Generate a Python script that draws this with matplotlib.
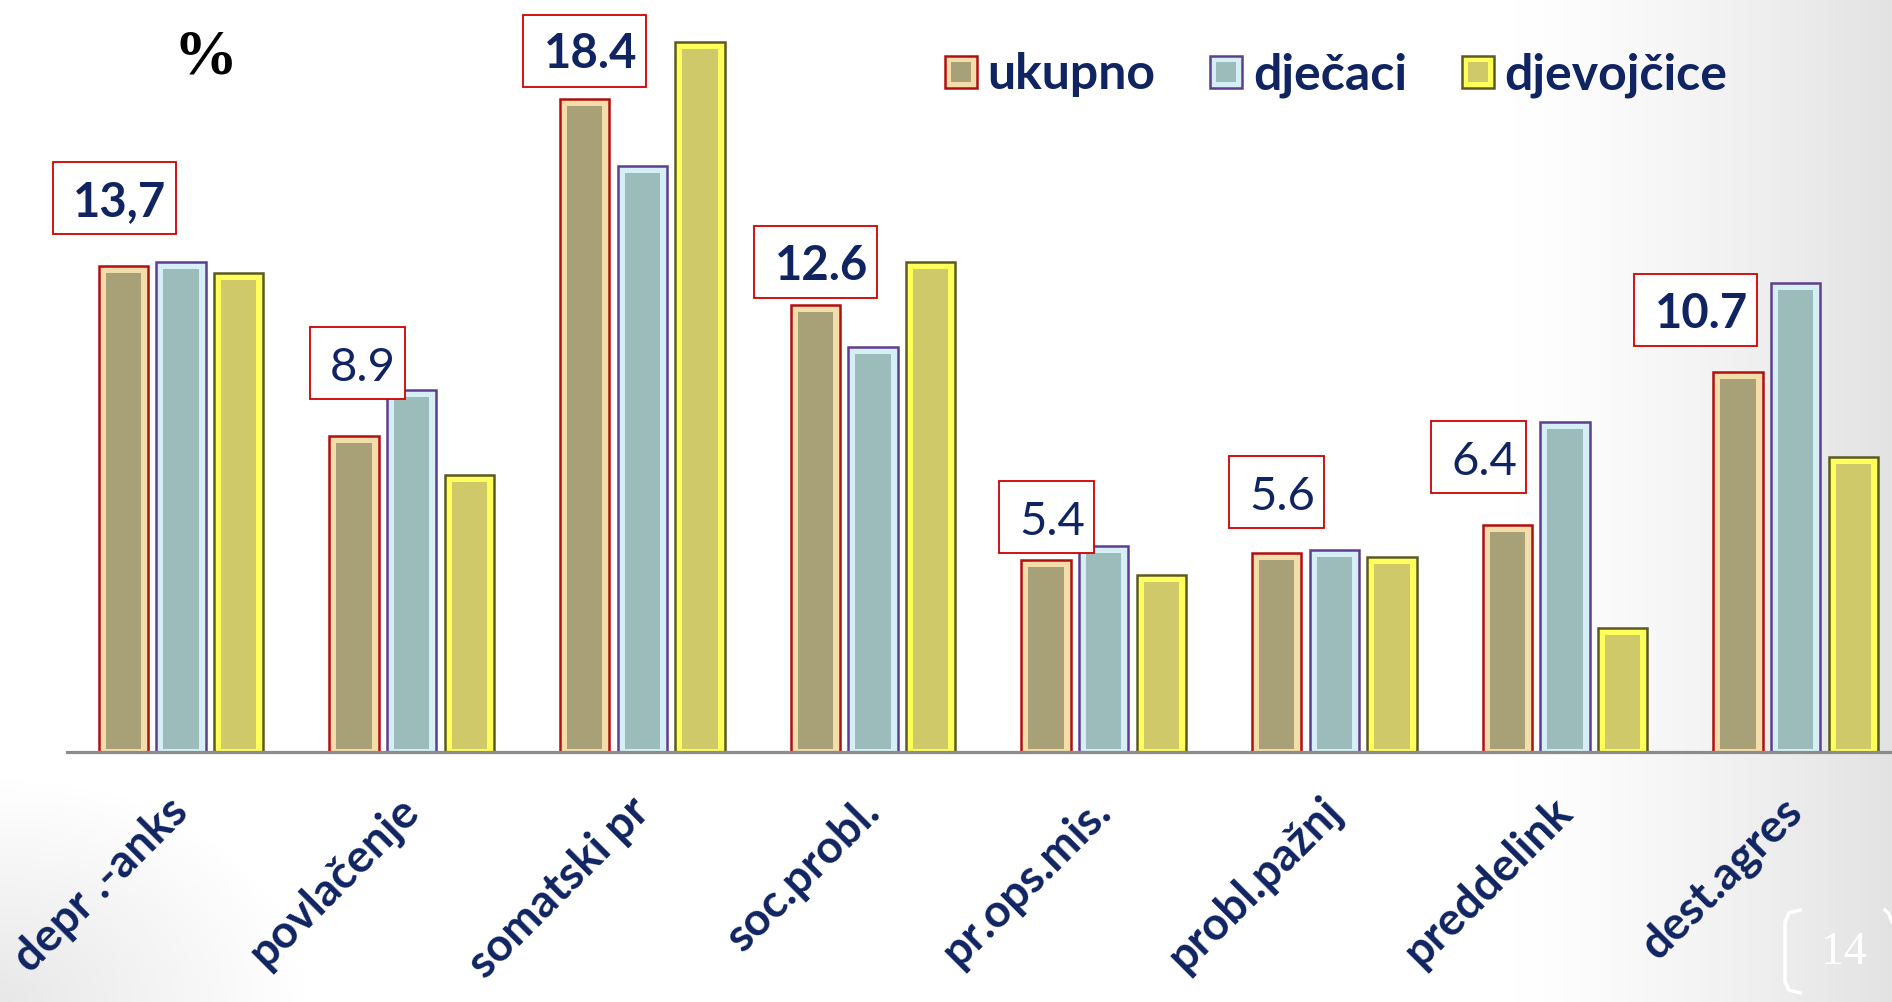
import numpy as np
import matplotlib
matplotlib.use("Agg")
import matplotlib.pyplot as plt
from matplotlib.patches import Rectangle
from matplotlib.lines import Line2D
from matplotlib.legend_handler import HandlerTuple

# ---------------- data ----------------
categories = ["depr .-anks", "povlačenje", "somatski pr", "soc.probl.",
              "pr.ops.mis.", "probl.pažnj", "preddelink", "dest.agres"]
series_names = ["ukupno", "dječaci", "djevojčice"]
ukupno = [13.7, 8.9, 18.4, 12.6, 5.4, 5.6, 6.4, 10.7]
djecaci = [13.8, 10.2, 16.5, 11.4, 5.8, 5.7, 9.3, 13.2]
djevojcice = [13.5, 7.8, 20.0, 13.8, 5.0, 5.5, 3.5, 8.3]
value_labels = ["13,7", "8.9", "18.4", "12.6", "5.4", "5.6", "6.4", "10.7"]
value_label_bold = [True, False, True, True, False, False, False, True]

# ---------------- style / layout ----------------
NAVY = "#0F2461"
edge_cols = ["#B01010", "#5E3F8C", "#5C5A22"]
frame_cols = ["#F3DDA8", "#D6EEF6", "#FFFF5C"]
fill_cols = ["#A8A077", "#9BBCBB", "#D0C96A"]
label_dx = [-0.29, -0.235, -0.25, -0.25, -0.25, -0.25, -0.375, -0.435]
label_y = [15.6, 10.96, 19.76, 13.8, 6.62, 7.32, 8.31, 12.45]

W, H = 1892, 1002
fig = plt.figure(figsize=(W / 100, H / 100), dpi=100)

# background (slide gradient)
bg = fig.add_axes([0, 0, 1, 1], zorder=-10)
xx, yy = np.meshgrid(np.linspace(0, 1, 400), np.linspace(0, 1, 220))
g = 0.11 * np.clip((xx - 0.80) / 0.20, 0, 1) ** 1.3
r = np.sqrt((xx / 0.16) ** 2 + (yy / 0.22) ** 2)
g = np.maximum(g, 0.09 * np.clip(1 - r, 0, 1))
img = 1 - g
bg.imshow(np.dstack([img, img, img]), extent=[0, 1, 0, 1], origin="lower",
          aspect="auto")
bg.axis("off")

px_per_unit = 35.5
ax = fig.add_axes([67 / W, 250 / H, 1 - 67 / W, 21 * px_per_unit / H])
ax.patch.set_alpha(0)

x = np.arange(len(categories))
width = 0.214
offsets = [-0.25, 0.0, 0.25]
inset_x = 7 / 230.7
inset_top = 7 / px_per_unit
inset_bot = 3 / px_per_unit

for k, vals in enumerate([ukupno, djecaci, djevojcice]):
    xs = x + offsets[k]
    ax.bar(xs, vals, width=width, color=frame_cols[k], edgecolor=edge_cols[k],
           linewidth=1.8, zorder=2)
    inner_h = np.array(vals) - inset_top - inset_bot
    ax.bar(xs, inner_h, bottom=inset_bot, width=width - 2 * inset_x,
           color=fill_cols[k], linewidth=0, zorder=3)

ax.set_xlim(-0.494, 7.417)
ax.set_ylim(0, 21)
for s in ["top", "right", "left"]:
    ax.spines[s].set_visible(False)
ax.spines["bottom"].set_color("#8C8C8C")
ax.spines["bottom"].set_linewidth(2.3)
ax.spines["bottom"].set_zorder(4)
ax.set_yticks([])
ax.set_xticks(x)
ax.set_xticklabels(categories, rotation=45, ha="right", va="center",
                   rotation_mode="anchor", fontsize=33, fontweight="bold",
                   color=NAVY, family="Lato")
ax.tick_params(axis="x", length=0, pad=38)

# value boxes
bw_bold, bw_norm, bh = 123 / 230.7, 95 / 230.7, 72 / px_per_unit
for i, (lab, b) in enumerate(zip(value_labels, value_label_bold)):
    cx = x[i] + label_dx[i]
    cy = label_y[i]
    bw = bw_bold if b else bw_norm
    ax.add_patch(Rectangle((cx - bw / 2, cy - bh / 2), bw, bh, facecolor="white",
                           edgecolor="#D00000", linewidth=1.3, zorder=6,
                           clip_on=False))
    ax.text(cx + 0.025, cy - 0.5, lab, ha="center", va="baseline",
            fontsize=34, fontweight="bold" if b else "normal", color=NAVY,
            family="Lato", zorder=7)

# % sign
fig.text(205 / W, 1 - 59 / H, "%", ha="center", va="center", fontsize=46,
         fontweight="bold", family="Liberation Serif", color="black")

# legend
handles = []
for k in range(3):
    outer = Line2D([], [], marker="s", linestyle="none", markersize=23,
                   markerfacecolor=frame_cols[k], markeredgecolor=edge_cols[k],
                   markeredgewidth=1.8)
    inner = Line2D([], [], marker="s", linestyle="none", markersize=14,
                   markerfacecolor=fill_cols[k], markeredgewidth=0)
    handles.append((outer, inner))
leg = fig.legend(handles, series_names, handler_map={tuple: HandlerTuple(ndivide=1)},
                 loc="center left", bbox_to_anchor=(945 / W, 1 - 75 / H), ncol=3,
                 frameon=False, handlelength=0.63, handletextpad=0.22,
                 columnspacing=1.1, borderpad=0, borderaxespad=0,
                 prop={"family": "Lato", "weight": "bold", "size": 36})
for t in leg.get_texts():
    t.set_color(NAVY)

# page number
fig.text(1844 / W, 1 - 953 / H, "14", ha="center", va="center", fontsize=33,
         family="Liberation Serif", color="white")
fig.add_artist(Line2D(np.array([1800, 1789, 1785, 1785, 1789, 1800]) / W,
                      1 - np.array([910, 913, 922, 982, 990, 993]) / H,
                      color="white", linewidth=2.5, transform=fig.transFigure))
fig.add_artist(Line2D(np.array([1885, 1889, 1892]) / W,
                      1 - np.array([910, 914, 922]) / H,
                      color="white", linewidth=2.5, transform=fig.transFigure))

fig.savefig("out.png", dpi=100)
